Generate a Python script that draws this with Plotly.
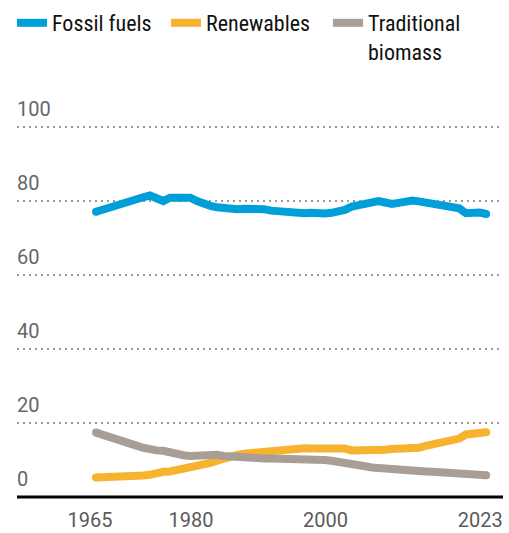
import plotly.graph_objects as go

years = list(range(1965, 2024))

fossil_fuels = [
    77.1, 77.7, 78.3, 79.0, 79.7, 80.3, 80.6, 81.0, 81.5, 80.6,
    80.0, 80.9, 81.0, 80.9, 80.9, 80.0, 79.2, 78.7, 78.3, 78.0,
    77.8, 77.8, 77.9, 78.0, 78.1, 77.8, 77.4, 77.2, 76.8, 76.8,
    76.6, 76.7, 76.8, 76.6, 76.6, 76.8, 77.0, 77.6, 78.5, 78.8,
    79.1, 79.6, 80.0, 79.6, 79.2, 79.5, 79.9, 80.1, 79.9, 79.6,
    79.3, 78.9, 78.7, 78.6, 78.0, 76.7, 77.0, 76.9, 76.5,
]

renewables = [
    5.3, 5.3, 5.4, 5.4, 5.5, 5.6, 5.7, 5.8, 6.0, 6.5,
    6.8, 6.9, 7.2, 7.6, 7.9, 8.2, 8.7, 9.2, 9.8, 10.4,
    11.1, 11.4, 11.7, 11.9, 12.1, 12.3, 12.4, 12.6, 12.8, 13.0,
    13.2, 13.2, 13.1, 13.2, 13.3, 13.3, 13.3, 13.1, 12.6, 12.6,
    12.6, 12.4, 12.4, 12.8, 13.0, 13.1, 13.0, 12.9, 13.3, 13.8,
    14.1, 14.5, 14.8, 15.1, 15.8, 16.9, 17.0, 17.2, 17.5,
]

traditional_biomass = [
    17.4, 16.9, 16.3, 15.7, 15.0, 14.5, 13.9, 13.3, 12.7, 12.6,
    12.5, 12.0, 11.6, 11.3, 11.1, 11.2, 11.4, 11.6, 11.4, 11.1,
    10.9, 10.7, 10.5, 10.4, 10.4, 10.4, 10.4, 10.4, 10.4, 10.2,
    10.0, 9.9, 10.0, 10.0, 10.0, 9.8, 9.6, 9.4, 8.9, 8.6,
    8.3, 8.0, 7.8, 7.9, 7.7, 7.5, 7.3, 7.1, 7.0, 6.9,
    6.8, 6.7, 6.5, 6.3, 6.4, 6.6, 6.1, 6.0, 5.9,
]

series_names = ["Fossil fuels", "Renewables", "Traditional<br>biomass"]
series_colors = ["#009FDA", "#F7B22E", "#A89E95"]
legend_widths = [109, 117, 110]

y_ticks = [0, 20, 40, 60, 80, 100]
x_ticks = [1965, 1980, 2000, 2023]

LINE_W = 8
PX_PER_UNIT = 3.7
legend_font = "Liberation Sans Narrow, Roboto Condensed, Arial Narrow, sans-serif"
axis_font = "Roboto, Liberation Sans, Arial, sans-serif"

fig = go.Figure()

for name, values, color, lw in zip(series_names,
                                    [fossil_fuels, renewables, traditional_biomass],
                                    series_colors, legend_widths):
    fig.add_trace(go.Scatter(
        x=years, y=values, name=name, mode="lines",
        line=dict(color=color, width=LINE_W),
        legendwidth=lw,
    ))
    # round end caps at both ends of each line
    fig.add_trace(go.Scatter(
        x=[years[0], years[-1]], y=[values[0], values[-1]],
        mode="markers", showlegend=False, hoverinfo="skip",
        marker=dict(color=color, size=LINE_W, line=dict(width=0)),
    ))

# solid black baseline at zero across the full plot width
fig.add_shape(
    type="line", xref="paper", x0=0, x1=1, yref="y", y0=0, y1=0,
    line=dict(color="#000000", width=3), layer="above",
)

top_m, bot_m = 96, 34
fig.update_layout(
    width=509, height=533,
    margin=dict(l=17, r=6, t=top_m, b=bot_m),
    paper_bgcolor="white", plot_bgcolor="white",
    showlegend=True,
    legend=dict(
        orientation="h", xref="container", yref="container",
        x=12 / 509, y=1 - 2 / 533, xanchor="left", yanchor="top",
        font=dict(family=legend_font, size=22, color="#111111"),
        valign="top", traceorder="normal",
        bgcolor="rgba(0,0,0,0)", borderwidth=0,
    ),
    xaxis=dict(
        range=[1953.25, 2025.5], automargin=False,
        tickmode="array", tickvals=x_ticks,
        ticktext=[str(t) for t in x_ticks],
        showgrid=False, zeroline=False, showline=False,
        ticks="", ticklabelshift=-6, ticklabelstandoff=7,
        tickfont=dict(family=axis_font, size=20, color="#5a5a5a"),
    ),
    yaxis=dict(
        range=[-(533 - bot_m - 497) / PX_PER_UNIT, (497 - top_m) / PX_PER_UNIT],
        automargin=False,
        tickmode="array", tickvals=y_ticks,
        ticktext=[str(t) for t in y_ticks],
        showgrid=True, gridcolor="#9a9a9a", gridwidth=2, griddash="2px,4px",
        zeroline=False, showline=False, ticks="",
        ticklabelposition="inside top", ticklabelstandoff=-3, ticklabelshift=-4,
        tickfont=dict(family=axis_font, size=20, color="#666666"),
    ),
)

fig.write_html("out.html")
